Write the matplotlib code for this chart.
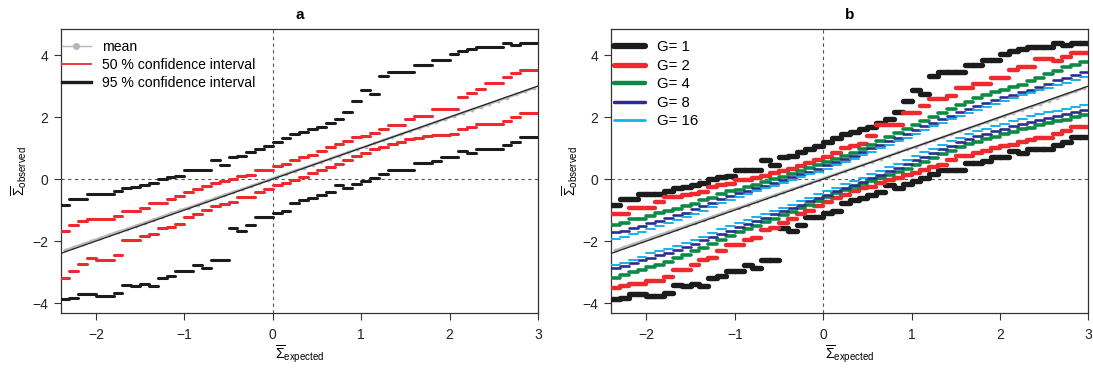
import matplotlib
matplotlib.use("Agg")
import matplotlib.pyplot as plt
from matplotlib.lines import Line2D
import numpy as np

plt.rcParams["font.family"] = ["Liberation Sans", "DejaVu Sans"]
plt.rcParams["mathtext.fontset"] = "custom"
plt.rcParams["mathtext.rm"] = "Liberation Sans"
plt.rcParams["mathtext.it"] = "Liberation Sans:italic"
plt.rcParams["mathtext.bf"] = "Liberation Sans:bold"

# expected-value bins (left edges), each 0.1 wide
expected_lo = np.round(np.arange(-2.4, 3.0, 0.1), 1)
bin_width = 0.1
expected_mid = expected_lo + bin_width / 2

# mean of observed per bin
mean_obs = [-2.30, -2.20, -2.10, -2.00, -1.90, -1.80, -1.70, -1.61, -1.51, -1.41,
            -1.31, -1.21, -1.11, -1.01, -0.92, -0.82, -0.72, -0.62, -0.52, -0.42,
            -0.33, -0.23, -0.13, -0.03, 0.07, 0.17, 0.27, 0.36, 0.46, 0.56,
            0.66, 0.76, 0.86, 0.96, 1.05, 1.15, 1.25, 1.35, 1.45, 1.55,
            1.64, 1.74, 1.84, 1.94, 2.04, 2.14, 2.24, 2.33, 2.43, 2.53,
            2.63, 2.73, 2.83, 2.93]

# panel a: 95 % and 50 % intervals (G = 1)
q975 = [-0.83, -0.64, -0.64, -0.47, -0.47, -0.47, -0.37, -0.29, -0.24, -0.18,
        -0.14, 0.01, 0.08, 0.11, 0.28, 0.28, 0.28, 0.60, 0.47, 0.71,
        0.75, 0.88, 0.98, 1.06, 1.20, 1.31, 1.44, 1.53, 1.60, 1.69,
        1.80, 1.93, 2.16, 2.52, 2.87, 2.74, 3.31, 3.44, 3.44, 3.44,
        3.69, 3.69, 3.84, 3.84, 4.04, 4.12, 4.19, 4.27, 4.27, 4.27,
        4.38, 4.31, 4.38, 4.38]
q025 = [-3.88, -3.84, -3.72, -3.72, -3.76, -3.76, -3.67, -3.41, -3.46, -3.40,
        -3.45, -3.19, -3.13, -2.98, -2.98, -2.76, -2.87, -2.62, -2.62, -1.59,
        -1.68, -1.48, -1.23, -1.23, -1.10, -1.03, -0.78, -0.67, -0.60, -0.51,
        -0.42, -0.18, -0.29, -0.15, -0.05, 0.03, 0.17, 0.28, 0.28, 0.28,
        0.52, 0.52, 0.57, 0.71, 0.71, 0.90, 0.84, 0.98, 0.98, 0.98,
        1.09, 1.20, 1.35, 1.35]
q75 = [-1.68, -1.48, -1.34, -1.30, -1.30, -1.30, -1.19, -1.03, -1.03, -0.92,
       -0.76, -0.76, -0.64, -0.54, -0.43, -0.32, -0.23, -0.14, -0.05, 0.01,
       0.09, 0.14, 0.28, 0.28, 0.43, 0.50, 0.61, 0.70, 0.79, 0.90,
       1.03, 1.14, 1.22, 1.35, 1.40, 1.47, 1.62, 1.76, 1.76, 1.93,
       2.04, 2.04, 2.27, 2.27, 2.27, 2.66, 2.79, 2.92, 3.09, 3.09,
       3.29, 3.43, 3.52, 3.52]
q25 = [-3.19, -2.98, -2.75, -2.56, -2.62, -2.62, -2.44, -1.97, -1.97, -1.83,
       -1.78, -1.59, -1.55, -1.46, -1.21, -1.12, -0.99, -0.88, -0.80, -0.73,
       -0.57, -0.57, -0.41, -0.32, -0.19, -0.12, -0.02, 0.08, 0.19, 0.29,
       0.40, 0.50, 0.63, 0.74, 0.85, 0.96, 1.04, 1.12, 1.20, 1.30,
       1.33, 1.38, 1.42, 1.42, 1.46, 1.62, 1.68, 1.77, 1.77, 1.77,
       1.88, 2.00, 2.12, 2.12]

# panel b: 95 % intervals for G = 2, 4, 8, 16 (G = 1 is q025 / q975)
g2_hi = [-1.14, -1.14, -0.92, -0.92, -0.92, -0.75, -0.57, -0.57, -0.52, -0.47,
         -0.42, -0.24, -0.20, -0.17, -0.02, -0.02, 0.05, 0.10, 0.18, 0.26,
         0.34, 0.42, 0.53, 0.62, 0.72, 0.85, 1.00, 1.08, 1.12, 1.40,
         1.76, 1.76, 1.76, 2.14, 2.14, 2.36, 2.58, 2.58, 2.68, 2.93,
         2.93, 3.06, 3.06, 3.26, 3.26, 3.52, 3.63, 3.63, 3.87, 3.87,
         3.82, 3.93, 4.06, 4.06]
g2_lo = [-3.52, -3.45, -3.40, -3.40, -3.29, -3.29, -3.16, -2.92, -2.92, -2.78,
         -2.60, -2.54, -2.32, -2.14, -2.14, -1.96, -1.90, -1.65, -1.58, -1.41,
         -1.30, -1.12, -1.03, -0.86, -0.73, -0.62, -0.52, -0.40, -0.30, -0.24,
         -0.14, -0.03, 0.05, 0.12, 0.20, 0.28, 0.38, 0.45, 0.60, 0.74,
         0.74, 0.85, 0.92, 1.00, 1.06, 1.10, 1.18, 1.25, 1.32, 1.32,
         1.45, 1.56, 1.69, 1.69]
g4_hi = [-1.48, -1.42, -1.30, -1.30, -1.18, -1.10, -1.02, -0.95, -0.88, -0.80,
         -0.68, -0.60, -0.48, -0.40, -0.34, -0.26, -0.18, -0.10, 0.00, 0.07,
         0.15, 0.25, 0.35, 0.45, 0.55, 0.65, 0.75, 0.85, 0.98, 1.10,
         1.22, 1.35, 1.48, 1.60, 1.74, 1.88, 2.00, 2.12, 2.25, 2.38,
         2.50, 2.60, 2.70, 2.80, 2.88, 2.97, 3.05, 3.15, 3.25, 3.38,
         3.50, 3.60, 3.68, 3.77]
g4_lo = [-3.19, -3.10, -3.00, -2.92, -2.85, -2.76, -2.66, -2.55, -2.45, -2.33,
         -2.22, -2.10, -1.96, -1.84, -1.72, -1.62, -1.50, -1.40, -1.28, -1.16,
         -1.05, -0.94, -0.82, -0.70, -0.58, -0.46, -0.36, -0.26, -0.16, -0.06,
         0.04, 0.14, 0.24, 0.34, 0.45, 0.56, 0.68, 0.80, 0.92, 1.04,
         1.12, 1.20, 1.28, 1.36, 1.44, 1.52, 1.60, 1.66, 1.74, 1.80,
         1.86, 1.92, 2.00, 2.06]
g8_hi = [-1.72, -1.66, -1.58, -1.50, -1.42, -1.34, -1.25, -1.16, -1.08, -0.98,
         -0.88, -0.76, -0.64, -0.55, -0.46, -0.38, -0.30, -0.21, -0.12, -0.04,
         0.06, 0.15, 0.24, 0.33, 0.44, 0.54, 0.65, 0.76, 0.88, 1.00,
         1.11, 1.22, 1.34, 1.46, 1.58, 1.70, 1.82, 1.94, 2.05, 2.16,
         2.26, 2.36, 2.46, 2.55, 2.64, 2.72, 2.80, 2.88, 2.98, 3.08,
         3.18, 3.26, 3.35, 3.44]
g8_lo = [-2.87, -2.80, -2.70, -2.62, -2.54, -2.46, -2.38, -2.28, -2.18, -2.08,
         -1.98, -1.88, -1.76, -1.66, -1.56, -1.45, -1.35, -1.24, -1.13, -1.02,
         -0.92, -0.82, -0.72, -0.62, -0.52, -0.40, -0.30, -0.19, -0.08, 0.03,
         0.14, 0.25, 0.36, 0.48, 0.60, 0.72, 0.84, 0.96, 1.08, 1.20,
         1.30, 1.38, 1.46, 1.54, 1.62, 1.70, 1.78, 1.85, 1.92, 1.98,
         2.04, 2.10, 2.16, 2.22]
g16_hi = [-1.94, -1.86, -1.78, -1.70, -1.62, -1.52, -1.42, -1.32, -1.22, -1.12,
          -1.02, -0.90, -0.78, -0.66, -0.57, -0.48, -0.39, -0.30, -0.21, -0.12,
          -0.03, 0.06, 0.15, 0.24, 0.34, 0.44, 0.55, 0.66, 0.77, 0.88,
          0.99, 1.10, 1.22, 1.34, 1.46, 1.58, 1.70, 1.82, 1.94, 2.04,
          2.14, 2.24, 2.34, 2.43, 2.52, 2.61, 2.70, 2.78, 2.86, 2.94,
          3.02, 3.10, 3.19, 3.28]
g16_lo = [-2.78, -2.70, -2.60, -2.50, -2.40, -2.32, -2.24, -2.16, -2.06, -1.96,
          -1.86, -1.74, -1.62, -1.52, -1.42, -1.32, -1.22, -1.12, -1.02, -0.92,
          -0.82, -0.71, -0.60, -0.49, -0.40, -0.28, -0.17, -0.06, 0.05, 0.16,
          0.27, 0.38, 0.50, 0.62, 0.74, 0.86, 0.98, 1.10, 1.22, 1.34,
          1.45, 1.54, 1.62, 1.70, 1.78, 1.86, 1.94, 2.02, 2.09, 2.15,
          2.21, 2.27, 2.33, 2.39]

group_labels = ["G= 1", "G= 2", "G= 4", "G= 8", "G= 16"]
group_hi = [q975, g2_hi, g4_hi, g8_hi, g16_hi]
group_lo = [q025, g2_lo, g4_lo, g8_lo, g16_lo]
group_colors = ["#1c1c1c", "#ee2a2e", "#0b8a45", "#2b2d8e", "#18b0ea"]
group_widths = [3.9, 3.2, 2.6, 1.9, 1.4]

black = "#1c1c1c"
red = "#ee2a2e"


def steps(ax, y, color, lw, z):
    lc = ax.hlines(y, expected_lo, expected_lo + bin_width, colors=color,
                   linewidths=lw, zorder=z)
    lc.set_capstyle("round")


def setup(ax, title):
    ax.set_xlim(-2.4, 3.0)
    ax.set_ylim(-4.32, 4.84)
    ax.set_xticks([-2, -1, 0, 1, 2, 3])
    ax.set_yticks([-4, -2, 0, 2, 4])
    ax.tick_params(direction="out", length=5, width=0.8, labelsize=10,
                   color="#333333", labelcolor="#222222")
    ax.tick_params(axis="x", pad=6)
    ax.tick_params(axis="y", pad=4)
    for s in ax.spines.values():
        s.set_linewidth(0.9)
        s.set_color("#333333")
    ax.axhline(0, color="#555555", lw=0.8, ls=(0, (3, 3)), zorder=1)
    ax.axvline(0, color="#555555", lw=0.8, ls=(0, (3, 3)), zorder=1)
    ax.set_title(title, fontweight="bold", fontsize=11, pad=7)
    ax.set_xlabel(r"$\overline{\Sigma}_{\mathrm{expected}}$", fontsize=10,
                  labelpad=1)
    ax.set_ylabel(r"$\overline{\Sigma}_{\mathrm{observed}}$", fontsize=10,
                  labelpad=2)


def mean_lines(ax):
    ax.plot(expected_mid, mean_obs, color="#b8b8b8", lw=1.8, marker="o",
            ms=1.8, zorder=8)
    ax.axline((0, 0), (1, 1), color="#222222", lw=0.9, zorder=9)


fig = plt.figure(figsize=(10.93, 3.70), dpi=100)
ax_a = fig.add_axes([0.0554, 0.154, 0.4368, 0.7676])
ax_b = fig.add_axes([0.559, 0.154, 0.4368, 0.7676])

# panel a
setup(ax_a, "a")
steps(ax_a, q975, black, 2.2, 3)
steps(ax_a, q025, black, 2.2, 3)
steps(ax_a, q75, red, 2.2, 4)
steps(ax_a, q25, red, 2.2, 4)
mean_lines(ax_a)
handles_a = [
    Line2D([], [], color="#b4b4b4", lw=1.0, marker="o", ms=4),
    Line2D([], [], color=red, lw=1.3),
    Line2D([], [], color=black, lw=2.4),
]
ax_a.legend(handles_a, ["mean", "50 % confidence interval",
                        "95 % confidence interval"],
            loc="upper left", bbox_to_anchor=(0.004, 0.962), frameon=False,
            fontsize=10.1, handlelength=2.0, handletextpad=0.85,
            labelspacing=0.28, borderaxespad=0, borderpad=0)

# panel b
setup(ax_b, "b")
for k in range(len(group_labels)):
    steps(ax_b, group_hi[k], group_colors[k], group_widths[k], 3 + k)
    steps(ax_b, group_lo[k], group_colors[k], group_widths[k], 3 + k)
mean_lines(ax_b)
handles_b = [Line2D([], [], color=c, lw=w + 0.6, solid_capstyle="round")
             for c, w in zip(group_colors, group_widths)]
ax_b.legend(handles_b, group_labels, loc="upper left",
            bbox_to_anchor=(0.006, 0.96), frameon=False,
            fontsize=10.8, handlelength=2.07, handletextpad=0.8,
            labelspacing=0.3, borderaxespad=0, borderpad=0)

fig.savefig("out.png", dpi=100)
